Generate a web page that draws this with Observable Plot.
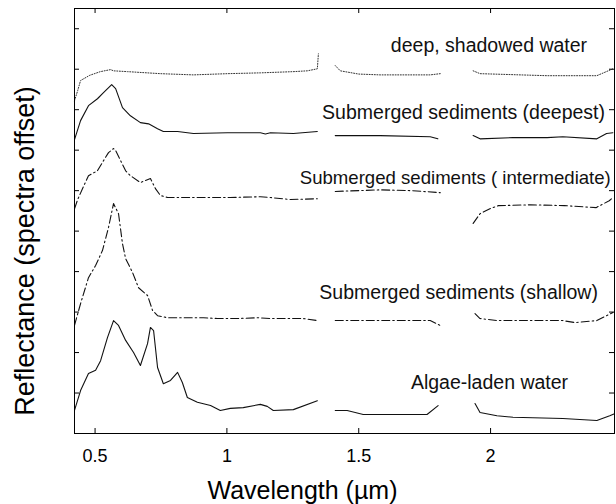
<!DOCTYPE html>
<html><head><meta charset="utf-8">
<script src="https://cdn.jsdelivr.net/npm/d3@7"></script>
<script src="https://cdn.jsdelivr.net/npm/@observablehq/plot@0.6"></script>
<style>
body{margin:0;background:#fff}
svg{font-family:"Liberation Sans",Arial,sans-serif}
</style>
</head><body><div id="chart"></div>
<script>
// ---- data (wavelength in µm, reflectance in offset units; null = water-absorption gap)
const xTicks = [0.5, 1, 1.5, 2];
const xTickLabels = ["0.5", "1", "1.5", "2"];
const yTicks = [1, 2, 3, 4, 5, 6, 7, 8, 9, 10];

const deepWater = [
  [0.422,8.22],[0.434,8.47],[0.445,8.72],[0.48,8.85],[0.52,8.94],[0.559,8.99],[0.570,8.96],[0.623,8.94],[0.748,8.89],[0.873,8.86],[1.002,8.89],[1.127,8.91],[1.252,8.94],[1.305,8.96],[1.343,9.01],[1.347,9.38],
  [1.38,null],
  [1.411,9.09],[1.43,8.96],[1.50,8.88],[1.581,8.86],[1.771,8.86],[1.809,8.89],
  [1.87,null],
  [1.934,8.96],[1.96,8.89],[2.214,8.84],[2.403,8.84],[2.464,9.01]
];
const deepest = [
  [0.422,7.26],[0.445,7.73],[0.475,8.10],[0.509,8.27],[0.532,8.42],[0.563,8.62],[0.578,8.52],[0.604,8.05],[0.634,7.85],[0.672,7.68],[0.703,7.65],[0.737,7.53],[0.759,7.46],[0.813,7.46],[0.873,7.41],[1.002,7.43],[1.127,7.43],[1.146,7.40],[1.165,7.43],[1.252,7.41],[1.343,7.46],
  [1.38,null],
  [1.411,7.36],[1.581,7.36],[1.771,7.33],[1.80,7.28],
  [1.87,null],
  [1.934,7.36],[1.96,7.28],[2.085,7.31],[2.214,7.31],[2.274,7.33],[2.403,7.28],[2.44,7.41],[2.464,7.43]
];
const intermediate = [
  [0.422,5.55],[0.434,5.78],[0.456,6.10],[0.475,6.37],[0.509,6.49],[0.532,6.74],[0.551,6.94],[0.570,7.04],[0.578,6.99],[0.597,6.74],[0.616,6.49],[0.634,6.37],[0.672,6.20],[0.710,6.30],[0.729,6.05],[0.748,5.88],[0.775,5.83],[0.835,5.83],[0.911,5.83],[1.013,5.83],[1.127,5.85],[1.165,5.83],[1.241,5.78],[1.343,5.80],
  [1.38,null],
  [1.411,5.98],[1.58,6.02],[1.70,6.0],[1.809,5.95],
  [1.87,null],
  [1.934,5.19],[1.96,5.43],[2.0,5.56],[2.03,5.63],[2.15,5.65],[2.28,5.63],[2.40,5.58],[2.45,5.75],[2.464,5.83]
];
const shallow = [
  [0.422,2.67],[0.445,3.21],[0.475,3.85],[0.502,4.15],[0.528,4.52],[0.551,5.09],[0.570,5.68],[0.589,5.43],[0.604,4.69],[0.616,4.32],[0.642,3.98],[0.665,3.60],[0.699,3.41],[0.718,3.04],[0.737,2.91],[0.775,2.86],[0.911,2.86],[0.964,2.84],[1.040,2.84],[1.116,2.86],[1.165,2.84],[1.248,2.84],[1.290,2.84],[1.343,2.79],
  [1.38,null],
  [1.411,2.79],[1.50,2.79],[1.70,2.79],[1.771,2.79],[1.809,2.67],
  [1.87,null],
  [1.941,2.96],[1.96,2.84],[2.024,2.79],[2.274,2.79],[2.32,2.74],[2.403,2.79],[2.464,2.99]
];
const algae = [
  [0.422,0.57],[0.445,1.06],[0.475,1.48],[0.502,1.56],[0.521,1.80],[0.547,2.37],[0.570,2.79],[0.589,2.67],[0.616,2.30],[0.646,2.0],[0.672,1.68],[0.699,2.22],[0.710,2.62],[0.722,2.54],[0.737,1.63],[0.759,1.23],[0.786,1.31],[0.813,1.51],[0.831,1.26],[0.850,0.89],[0.888,0.77],[0.938,0.69],[0.975,0.57],[1.013,0.62],[1.062,0.64],[1.127,0.72],[1.153,0.67],[1.176,0.57],[1.252,0.59],[1.343,0.81],
  [1.38,null],
  [1.411,0.57],[1.456,0.57],[1.517,0.47],[1.759,0.47],[1.801,0.69],
  [1.87,null],
  [1.941,0.74],[1.960,0.52],[2.024,0.44],[2.085,0.40],[2.274,0.37],[2.403,0.32],[2.452,0.44],[2.47,0.49]
];

// annotations: text, right-end wavelength, level
const annotationText = ["deep, shadowed water", "Submerged sediments (deepest)", "Submerged sediments ( intermediate)", "Submerged sediments (shallow)", "Algae-laden water"];
const annotationWave = [2.366, 2.434, 2.456, 2.407, 2.294];
const annotationLevel = [9.58, 7.93, 6.32, 3.48, 1.26];

const xTitle = "Wavelength (\u00b5m)";
const yTitle = "Reflectance (spectra offset)";

// ---- chart
const W = 616, H = 504;
const mL = 74, mR = 2, mT = 8, mB = 71;
const innerW = W - mL - mR, innerH = H - mT - mB;
const tickLen = 5;

const toRows = a => a.map(([w, r]) => ({w, r}));
const lineOpts = {x: "w", y: "r", stroke: "#111", strokeWidth: 1.1, strokeLinejoin: "round"};
const annotationSize = t => t.length > 32 ? 18.6 : 19.5;

const chart = Plot.plot({
  width: W, height: H,
  marginLeft: mL, marginRight: mR, marginTop: mT, marginBottom: mB,
  style: {fontFamily: "'Liberation Sans', Arial, sans-serif", background: "#fff"},
  x: {domain: [0.422, 2.47], axis: null},
  y: {domain: [0, 10.5], axis: null},
  marks: [
    Plot.line(toRows(deepWater), {...lineOpts, stroke: "#333", strokeWidth: 1, strokeDasharray: "1,1.6"}),
    Plot.line(toRows(deepest), lineOpts),
    Plot.line(toRows(intermediate), {...lineOpts, strokeDasharray: "8,3,1.5,3"}),
    Plot.line(toRows(shallow), {...lineOpts, strokeDasharray: "8,3,1.5,3"}),
    Plot.line(toRows(algae), lineOpts),
    // inward ticks on all four sides
    Plot.tickX(xTicks, {x: d => d, insetTop: innerH - tickLen, stroke: "#000"}),
    Plot.tickX(xTicks, {x: d => d, insetBottom: innerH - tickLen, stroke: "#000"}),
    Plot.tickY(yTicks, {y: d => d, insetRight: innerW - tickLen, stroke: "#000"}),
    Plot.tickY(yTicks, {y: d => d, insetLeft: innerW - tickLen, stroke: "#000"}),
    Plot.frame({stroke: "#000", strokeWidth: 1}),
    // tick labels
    Plot.text(xTicks, {x: d => d, text: (d, i) => xTickLabels[i], frameAnchor: "bottom", dy: 23, fontSize: 18, fill: "#000", lineAnchor: "middle"}),
    // annotations (one mark per label so each can have its own size)
    ...annotationText.map((t, i) => Plot.text([t], {x: () => annotationWave[i], y: () => annotationLevel[i], text: d => d, textAnchor: "end", fontSize: annotationSize(t), fill: "#111", lineAnchor: "middle"})),
    // axis titles
    Plot.text([xTitle], {text: d => d, frameAnchor: "bottom", dy: 57, dx: -42, fontSize: 25, fill: "#000", textAnchor: "middle", lineAnchor: "middle"}),
    Plot.text([yTitle], {text: d => d, frameAnchor: "left", dx: -49, dy: 30, rotate: -90, fontSize: 27, fill: "#000", textAnchor: "middle", lineAnchor: "middle"})
  ]
});
document.getElementById("chart").appendChild(chart);
</script>
</body></html>
